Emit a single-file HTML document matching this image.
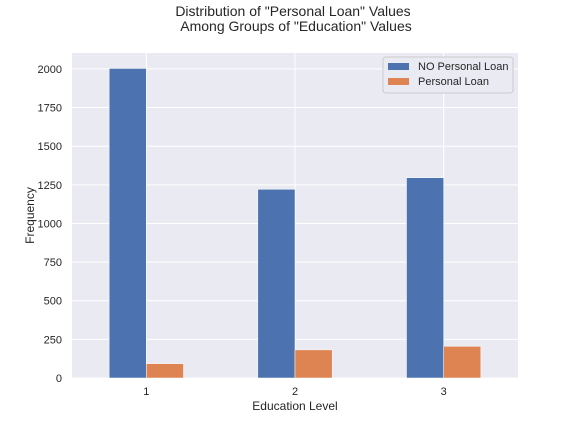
<!DOCTYPE html>
<html><head><meta charset="utf-8"><style>
body{margin:0;background:#fff;font-family:"Liberation Sans",sans-serif}
</style></head><body>
<svg width="576" height="432" xmlns="http://www.w3.org/2000/svg" font-family="Liberation Sans, sans-serif">
<g id="root"></g>
</svg>
<script>
const categories=["1","2","3"];
const noLoan=[2003,1221,1296];
const loan=[93,182,205];
const yTicks=[0,250,500,750,1000,1250,1500,1750,2000];
const L=72,R=518,T=53,B=378;
const yMax=2103;
const x=i=>L+(i+0.5)*(R-L)/3;
const bw=0.25*(R-L)/3;
const y=v=>B-v/yMax*(B-T);
const ns="http://www.w3.org/2000/svg";
const root=document.getElementById('root');
function mk(t,a,txt){const e=document.createElementNS(ns,t);for(const k in a)e.setAttribute(k,a[k]);if(txt!==undefined)e.textContent=txt;root.appendChild(e);return e;}
let e=mk('rect',{x:L,y:T,width:R-L,height:B-T,fill:'#eaeaf2'});

yTicks.forEach(v=>{
 let g=mk('line',{x1:L,x2:R,y1:y(v),y2:y(v),stroke:'#fff','stroke-width':1});
 
 let t=mk('text',{x:L-10,y:y(v)+4,'text-anchor':'end','font-size':11,fill:'#262626'},String(v));
 
});
categories.forEach((c,i)=>{
 let g=mk('line',{x1:x(i),x2:x(i),y1:T,y2:B,stroke:'#fff','stroke-width':1});
 
 let t=mk('text',{x:x(i),y:B+17,'text-anchor':'middle','font-size':11,fill:'#262626'},c);
 
});
categories.forEach((c,i)=>{
 let b=mk('rect',{x:x(i)-bw,y:y(noLoan[i]),width:bw,height:B-y(noLoan[i]),fill:'#4c72b0',stroke:'#fff','stroke-width':0.5});
 
 let o=mk('rect',{x:x(i),y:y(loan[i]),width:bw,height:B-y(loan[i]),fill:'#dd8452',stroke:'#fff','stroke-width':0.5});
 
});
let t1=mk('text',{x:293,y:16,'text-anchor':'middle','font-size':14,fill:'#262626'},'Distribution of "Personal Loan" Values');

let t2=mk('text',{x:296,y:31,'text-anchor':'middle','font-size':14,fill:'#262626'},'Among Groups of "Education" Values');

let xl=mk('text',{x:(L+R)/2,y:410,'text-anchor':'middle','font-size':12,fill:'#262626'},'Education Level');

let yl=mk('text',{x:34,y:(T+B)/2,'text-anchor':'middle','font-size':12,fill:'#262626',transform:'rotate(-90 34 '+((T+B)/2)+')'},'Frequency');

let lg=mk('rect',{x:383,y:57,width:130,height:36,rx:3,fill:'#eaeaf2',stroke:'#cccccc','stroke-width':1});

let p1=mk('rect',{x:388,y:63,width:21,height:7,fill:'#4c72b0'});

let l1=mk('text',{x:418,y:70,'font-size':11,fill:'#262626'},'NO Personal Loan');

let p2=mk('rect',{x:388,y:78,width:21,height:7,fill:'#dd8452'});

let l2=mk('text',{x:418,y:85,'font-size':11,fill:'#262626'},'Personal Loan');

</script>
</body></html>
